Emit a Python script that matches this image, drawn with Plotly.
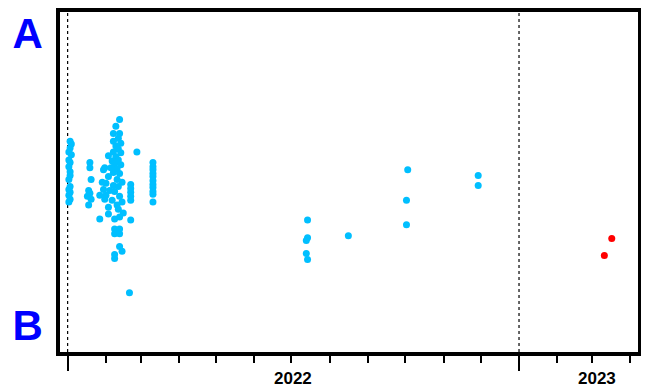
import plotly.graph_objects as go

# ---- data ----
blue_dates = [
    # early-January column
    "2022-01-03", "2022-01-04", "2022-01-03", "2022-01-02", "2022-01-04", "2022-01-02",
    "2022-01-03", "2022-01-02", "2022-01-03", "2022-01-03", "2022-01-02", "2022-01-03",
    "2022-01-02", "2022-01-03", "2022-01-02", "2022-01-03", "2022-01-02",
    # mid-January column
    "2022-01-19", "2022-01-19", "2022-01-20", "2022-01-18", "2022-01-19", "2022-01-17",
    "2022-01-20", "2022-01-18",
    # late-January / February cluster
    "2022-02-12", "2022-02-09", "2022-02-07", "2022-02-12", "2022-02-11", "2022-02-07",
    "2022-02-13", "2022-02-09", "2022-02-11", "2022-02-07", "2022-02-13", "2022-02-03",
    "2022-02-09", "2022-02-11", "2022-02-06", "2022-02-08", "2022-02-13", "2022-01-31",
    "2022-02-05", "2022-02-10", "2022-01-30", "2022-02-07", "2022-02-12", "2022-02-03",
    "2022-02-10", "2022-01-29", "2022-02-01", "2022-02-14", "2022-02-07", "2022-02-11",
    "2022-01-30", "2022-02-04", "2022-02-08", "2022-01-27", "2022-02-01", "2022-02-12",
    "2022-01-31", "2022-02-06", "2022-02-14", "2022-02-10", "2022-02-03", "2022-02-11",
    "2022-02-03", "2022-02-15", "2022-01-27", "2022-02-08", "2022-02-12", "2022-02-08",
    "2022-02-12", "2022-02-08", "2022-02-12", "2022-02-12", "2022-02-14", "2022-02-08",
    "2022-02-08",
    # late-February column
    "2022-02-21", "2022-02-21", "2022-02-21", "2022-02-21", "2022-02-21", "2022-02-21",
    "2022-02-20", "2022-02-26",
    # March column
    "2022-03-11", "2022-03-11", "2022-03-11", "2022-03-11", "2022-03-11", "2022-03-11",
    "2022-03-11", "2022-03-11", "2022-03-11", "2022-03-11", "2022-03-11",
    # later 2022
    "2022-07-14", "2022-07-14", "2022-07-13", "2022-07-13", "2022-07-14",
    "2022-08-16",
    "2022-10-03", "2022-10-02", "2022-10-02",
    "2022-11-29", "2022-11-29",
]
blue_values = [
    62.0, 61.2, 60.0, 58.8, 58.0, 56.5, 55.7, 54.5, 53.0, 51.9, 50.7, 48.7, 47.8, 47.0, 46.1, 44.9, 44.1,
    55.7, 54.2, 50.7, 47.5, 46.7, 45.8, 44.9, 43.2,
    68.4, 66.4, 64.3, 64.3, 62.9, 62.0, 61.4, 60.6, 59.7, 58.8, 58.6, 57.7,
    57.4, 56.5, 56.2, 55.4, 55.1, 54.2, 54.2, 53.9, 53.6, 52.8, 52.5, 51.6,
    50.7, 49.9, 49.6, 49.9, 49.0, 48.7, 47.8, 47.5, 47.2, 46.1, 46.1, 45.8,
    44.9, 44.6, 44.1, 43.2, 42.6, 42.0, 40.6, 40.9, 39.1, 39.1, 39.7, 36.2,
    36.2, 34.8, 34.8, 31.0, 29.6, 28.7, 27.5,
    49.3, 48.1, 47.0, 45.8, 44.6, 38.8, 17.4, 58.8,
    55.7, 54.5, 53.6, 52.5, 51.6, 50.4, 49.3, 48.4, 47.2, 46.4, 44.1,
    38.8, 33.6, 32.8, 29.0, 27.2,
    34.2,
    53.6, 44.6, 37.4,
    51.9, 49.0,
]
red_dates = ["2023-03-17", "2023-03-11"]
red_values = [33.4, 28.4]

y_tick_values = [93.6, 7.8]
y_tick_labels = ["A", "B"]
year_labels = ["2022", "2023"]
year_label_dates = ["2022-07-02", "2023-03-05"]
year_boundaries = ["2022-01-01", "2023-01-01"]
x_range = ["2021-12-25 20:00", "2023-04-07 05:00"]

# ---- figure ----
fig = go.Figure()
fig.add_trace(go.Scatter(
    x=blue_dates, y=blue_values, mode="markers",
    marker=dict(color="#00BFFF", size=7, line=dict(width=0)),
    showlegend=False, hoverinfo="x+y",
))
fig.add_trace(go.Scatter(
    x=red_dates, y=red_values, mode="markers",
    marker=dict(color="#FF0000", size=7, line=dict(width=0)),
    showlegend=False, hoverinfo="x+y",
))

for d in year_boundaries:
    fig.add_shape(type="line", xref="x", yref="paper", x0=d, x1=d, y0=0, y1=1,
                  line=dict(color="black", width=1.2, dash="dot"), layer="below")

for lab, d in zip(year_labels, year_label_dates):
    fig.add_annotation(x=d, xref="x", y=-0.078, yref="paper", text=lab,
                       showarrow=False, xanchor="center", yanchor="middle",
                       font=dict(family="Liberation Sans, Arial, sans-serif", size=17,
                                 color="black", weight="bold"))

# The page body has an 8px margin, so the figure is sized to fit the window.
fig.update_layout(
    width=641, height=382, autosize=False,
    margin=dict(l=52, r=11, t=0, b=38, pad=0),
    plot_bgcolor="white", paper_bgcolor="white",
    xaxis=dict(
        type="date", range=x_range,
        showgrid=False, zeroline=False,
        showline=True, linecolor="black", linewidth=3.5, mirror=True,
        tick0="2022-01-01", dtick="M12", ticks="outside", ticklen=15,
        tickwidth=1.5, tickcolor="black", showticklabels=False,
        minor=dict(dtick="M1", tick0="2022-01-01", ticks="outside", ticklen=7,
                   tickwidth=1.5, tickcolor="black", showgrid=False),
    ),
    yaxis=dict(
        range=[0, 100], showgrid=False, zeroline=False,
        showline=True, linecolor="black", linewidth=3.5, mirror=True,
        tickvals=y_tick_values, ticktext=y_tick_labels, ticks="",
        ticklabelstandoff=5,
        tickfont=dict(family="Liberation Sans, Arial, sans-serif", size=42,
                      color="#0000FF", weight="bold"),
    ),
)

fig.write_html("out.html")
